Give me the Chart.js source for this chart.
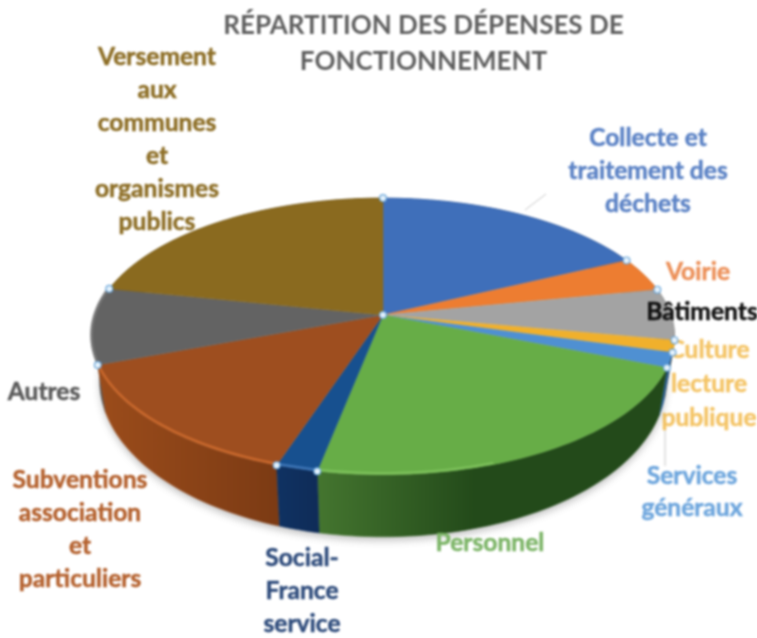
<!DOCTYPE html>
<html><head><meta charset="utf-8">
<style>html,body{margin:0;padding:0;background:#fff;overflow:hidden}canvas{display:block;filter:blur(0.8px)}</style>
<script src="https://cdn.jsdelivr.net/npm/chart.js@4"></script>
</head><body><canvas id="c" width="757" height="638"></canvas>
<script>
const titleLines = ['RÉPARTITION DES DÉPENSES DE', 'FONCTIONNEMENT'];
const categories = ['Collecte et traitement des déchets','Voirie','Bâtiments','Culture lecture publique','Services généraux','Personnel','Social-France service','Subventions association et particuliers','Autres','Versement aux communes et organismes publics'];
const values = [17.9, 4.0, 6.0, 1.4, 1.7, 22.1, 2.0, 14.2, 8.9, 21.8];
const topColors = ['#3f6fba','#ed7d31','#a3a3a3','#f0b02c','#4f90d2','#67ad47','#17508f','#9e4e1f','#636363','#8a6a1f'];
const sideLight = ['#2c4f86','#a8571f','#6e6e6e','#a87c1a','#2a5f95','#44752f','#0f3262','#9b4c1b','#5a5a5a','#5f4a15'];
const sideDark  = ['#1f3a66','#7a3f14','#505050','#7a5a10','#15355f','#234a1a','#0f2c58','#7c3b14','#4a4a4a','#4a3a10'];
const rimColors = [null,null,null,null,null,'#7cc05a','#3d74b5','#c9682c','#7a7a7a',null];
const labelLines = [['Collecte et','traitement des','déchets'],['Voirie'],['Bâtiments'],['Culture','lecture','publique'],['Services','généraux'],['Personnel'],['Social-','France','service'],['Subventions','association','et','particuliers'],['Autres'],['Versement','aux','communes','et','organismes','publics']];
const labelColors = ['#5b82c5','#ec9059','#111111','#f4c466','#6ea6dd','#7db568','#2f4c7c','#b4612e','#5a5a5a','#8d6e26'];
const labelX = [648,698,702,709,692,490,302,80,44,157];
const labelY = [138,272,312,350,476,543,558,480,392,57];
const labelStep = [33,33,33,34,32,33,33,33,33,33];
const underPie = [3];
const leaders = [[525,210,546,194],[665,430,665,466]];

// perspective of the pie disc
const CX=383, CY=315, RX=288, RY=135, K=0.155, DEPTH=40, DEPTH_V=22, BASE=0.972;
const proj=(a)=>{const u=Math.sin(a),v=-Math.cos(a),w=1-K*v;return {x:CX+RX*u/w,y:CY+RY*v/w,v};};
const base=(p)=>({x:CX+(p.x-CX)*BASE,y:p.y+DEPTH+DEPTH_V*p.v});
const samples=(a0,a1)=>{const n=Math.max(2,Math.ceil((a1-a0)*40)),o=[];for(let i=0;i<=n;i++)o.push(proj(a0+(a1-a0)*i/n));return o;};

const pie3d={id:'pie3d',
 beforeDatasetsDraw(chart){
  const ctx=chart.ctx, arcs=chart.getDatasetMeta(0).data;
  const ang=arcs.map(e=>[e.startAngle+Math.PI/2,e.endAngle+Math.PI/2]);
  ctx.font='bold 24.6px Lato';ctx.textAlign='center';ctx.textBaseline='middle';ctx.lineJoin='round';
  const text=(i)=>{ctx.fillStyle=labelColors[i];ctx.strokeStyle=labelColors[i];ctx.lineWidth=0.5;labelLines[i].forEach((t,j)=>{ctx.fillText(t,labelX[i],labelY[i]+j*labelStep[i]);ctx.strokeText(t,labelX[i],labelY[i]+j*labelStep[i]);});};
  underPie.forEach(text);
  ctx.strokeStyle='#c8c8c8';ctx.lineWidth=1;
  leaders.forEach(l=>{ctx.beginPath();ctx.moveTo(l[0],l[1]);ctx.lineTo(l[2],l[3]);ctx.stroke();});
  // soft shadow under the base
  ctx.save();ctx.shadowColor='rgba(90,90,90,0.35)';ctx.shadowBlur=7;ctx.shadowOffsetY=4;
  ctx.fillStyle='#fff';ctx.beginPath();samples(0,2*Math.PI).forEach((p,i)=>{const b=base(p);i?ctx.lineTo(b.x,b.y):ctx.moveTo(b.x,b.y);});ctx.fill();ctx.restore();
  // side walls, back to front
  const order=ang.map((a,i)=>i).sort((p,q)=>proj((ang[p][0]+ang[p][1])/2).v-proj((ang[q][0]+ang[q][1])/2).v);
  order.forEach(i=>{
   const pts=samples(ang[i][0],ang[i][1]);
   const xs=pts.map(p=>p.x),x0=Math.min(...xs),x1=Math.max(...xs);
   const g=ctx.createLinearGradient(x0,0,x1===x0?x0+1:x1,0);
   g.addColorStop(0,sideLight[i]);g.addColorStop(i===5?0.45:1,sideDark[i]);
   ctx.fillStyle=g;ctx.strokeStyle=g;ctx.lineWidth=0.6;
   ctx.beginPath();
   pts.forEach((p,j)=>j?ctx.lineTo(p.x,p.y):ctx.moveTo(p.x,p.y));
   pts.slice().reverse().forEach(p=>{const b=base(p);ctx.lineTo(b.x,b.y);});
   ctx.closePath();ctx.fill();ctx.stroke();
  });
  // top surface
  ang.forEach((a,i)=>{
   ctx.fillStyle=topColors[i];ctx.strokeStyle=topColors[i];ctx.lineWidth=0.5;
   ctx.beginPath();ctx.moveTo(CX,CY);samples(a[0],a[1]).forEach(p=>ctx.lineTo(p.x,p.y));ctx.closePath();ctx.fill();ctx.stroke();
  });
  // lighter bevel along the front rim
  ang.forEach((a,i)=>{
   if(!rimColors[i])return;
   ctx.strokeStyle=rimColors[i];ctx.lineWidth=2.5;ctx.lineCap='butt';
   const span=i===5?[a[0]+(a[1]-a[0])*0.62,a[1]]:a;
   ctx.beginPath();samples(span[0],span[1]).forEach((p,j)=>{const y=p.y-1.5;j?ctx.lineTo(p.x,y):ctx.moveTo(p.x,y);});ctx.stroke();
  });
  // selection handles on slice boundaries and centre
  const dot=(x,y)=>{ctx.beginPath();ctx.arc(x,y,3.4,0,2*Math.PI);ctx.fillStyle='#e4f1fb';ctx.fill();ctx.lineWidth=1.2;ctx.strokeStyle='#6aa5d8';ctx.stroke();};
  ang.forEach(a=>{const p=proj(a[0]);dot(p.x,p.y);});
  dot(CX,CY);
  categories.forEach((c,i)=>{if(!underPie.includes(i))text(i);});
  return false;
 }};

new Chart(document.getElementById('c'),{
 type:'pie',
 data:{labels:categories,datasets:[{data:values,backgroundColor:topColors,borderWidth:0}]},
 options:{responsive:false,animation:false,
  layout:{padding:{left:90}},
  plugins:{legend:{display:false},tooltip:{enabled:false},
   title:{display:true,text:titleLines,color:'#5f5f5f',font:{family:'Lato',weight:'bold',size:26,lineHeight:1.4},padding:{top:7,bottom:0}}}},
 plugins:[pie3d]
});
</script></body></html>
